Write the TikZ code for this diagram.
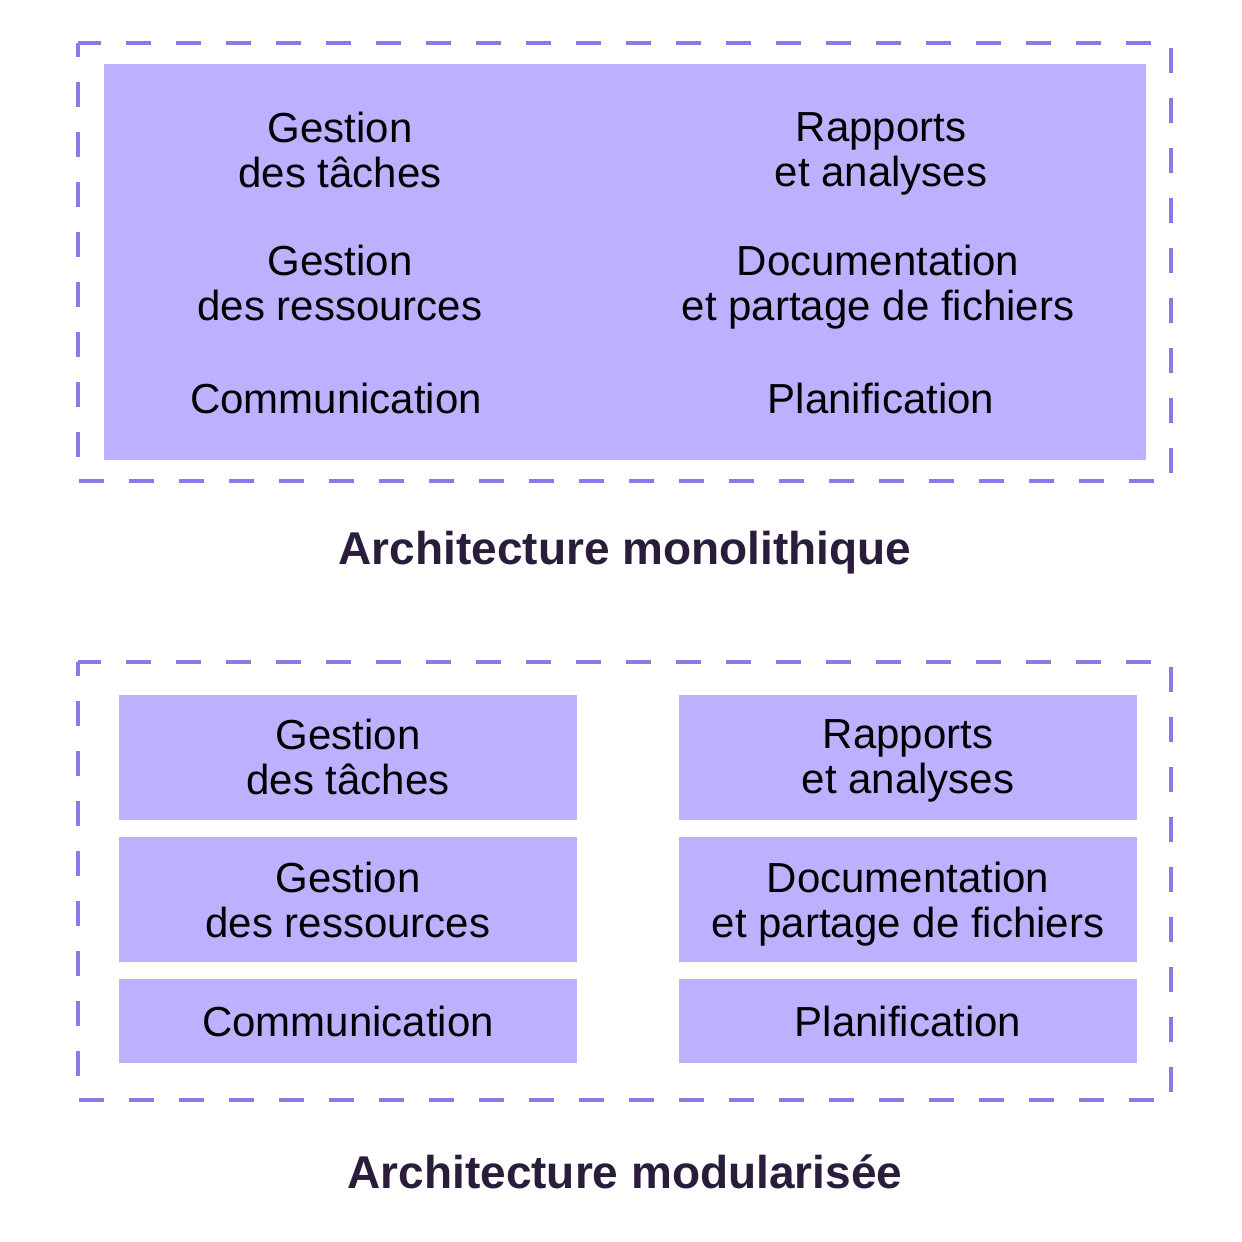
\documentclass[tikz,border=0pt]{standalone}
\usepackage{fontspec}
\setmainfont{Liberation Sans}
\usetikzlibrary{positioning,calc}
\definecolor{lav}{HTML}{BBB1FF}
\definecolor{dashlav}{HTML}{8A7AE6}
\definecolor{ink}{HTML}{2A1D3B}
\tikzstyle{frame} = [draw=dashlav, line width=4pt, dash pattern=on 25pt off 25pt, dash phase=11pt]
\tikzstyle{module} = [fill=lav, draw=none, minimum width=458pt, inner sep=0pt]
\tikzstyle{label} = [align=center, text=black, text depth=10pt, yshift=-5pt, font=\fontsize{42}{45}\selectfont]
\tikzstyle{title} = [text=ink, font=\bfseries\fontsize{46}{50}\selectfont]

\begin{document}
\begin{tikzpicture}[x=1pt, y=-1pt]
            \useasboundingbox (0,0) rectangle (1242,1242);
            %%%%% Monolithic %%%%%
            \draw[frame] (78,43) rectangle (1171,481);
            \node (M) [fill=lav, minimum width=1042pt, minimum height=396pt, inner sep=0pt] at (625,262) {};
            \node (A) [label] at (340,150) {Gestion\\des tâches};
            \node (B) [label] at (340,283) {Gestion\\des ressources};
            \node (C) [label] at (336,398) {Communication};
            \node (D) [label] at (881,150) {Rapports\\et analyses};
            \node (E) [label] at (878,283) {Documentation\\et partage de fichiers};
            \node (F) [label] at (881,398) {Planification};
            \node (T) [title] at (625,553) {Architecture monolithique};
            %%%%% Modular %%%%%
            \draw[frame] (78,662) rectangle (1171,1100);
            \node (G) [module, minimum height=125pt] at (348,757) {};
            \node (H) [module, minimum height=125pt, below=17pt of G] {};
            \node (I) [module, minimum height=84pt, below=17pt of H] {};
            \node (J) [module, minimum height=125pt] at (908,757) {};
            \node (K) [module, minimum height=125pt, below=17pt of J] {};
            \node (L) [module, minimum height=84pt, below=17pt of K] {};
            \node [label] at (G) {Gestion\\des tâches};
            \node [label] at (H) {Gestion\\des ressources};
            \node [label] at (I) {Communication};
            \node [label] at (J) {Rapports\\et analyses};
            \node [label] at (K) {Documentation\\et partage de fichiers};
            \node [label] at (L) {Planification};
            \node (U) [title] at (625,1172) {Architecture modularisée};
        \end{tikzpicture}
\end{document}
